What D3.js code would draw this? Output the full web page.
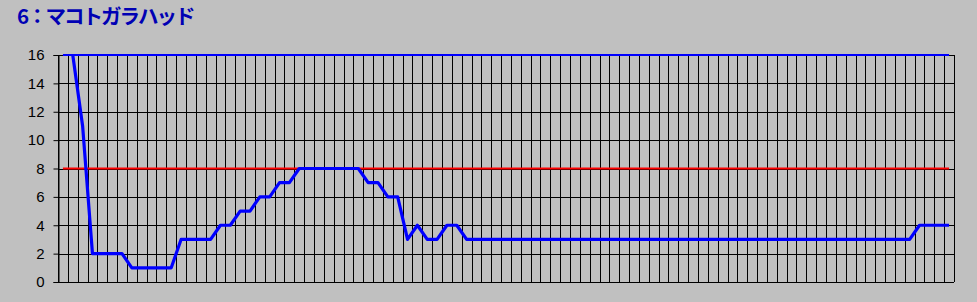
<!DOCTYPE html>
<html>
<head>
<meta charset="utf-8">
<script src="https://cdn.jsdelivr.net/npm/d3@7"></script>
<style>
  body { margin: 0; background: #c0c0c0; }
  svg { display: block; }
</style>
</head>
<body>
<svg id="chart" width="977" height="302"></svg>
<script>
// Chart title.
var title = '6：マコトガラハッド';

// Category slots along the bottom axis (no labels are shown).
var categories = d3.range(1, 92);

// Main series, one value per category (first slot is empty).
var values = [
  null, 16, 11, 2, 2, 2, 2, 1, 1, 1,
  1, 1, 3, 3, 3, 3, 4, 4, 5, 5,
  6, 6, 7, 7, 8, 8, 8, 8, 8, 8,
  8, 7, 7, 6, 6, 3, 4, 3, 3, 4,
  4, 3, 3, 3, 3, 3, 3, 3, 3, 3,
  3, 3, 3, 3, 3, 3, 3, 3, 3, 3,
  3, 3, 3, 3, 3, 3, 3, 3, 3, 3,
  3, 3, 3, 3, 3, 3, 3, 3, 3, 3,
  3, 3, 3, 3, 3, 3, 3, 4, 4, 4,
  4
];

// Flat reference lines.
var topLevel = 16;
var midLevel = 8;

// Y axis ticks.
var yTicks = [0, 2, 4, 6, 8, 10, 12, 14, 16];


/**
 * Draws the whole chart into the svg.
 */
function drawChart() {
  var svg = d3.select('#chart');
  var left = 58, right = 954, top = 55, bottom = 282;

  var x = d3.scaleBand().domain(categories).range([left, right]).
      paddingInner(0).paddingOuter(0);
  var y = d3.scaleLinear().domain([0, 16]).range([bottom, top]);
  var cx = function(c) { return x(c) + x.bandwidth() / 2; };
  var crisp = function(v) { return Math.round(v) + 0.5; };

  // Title, kept low enough so its font box stays inside the page.
  svg.append('text').
      attr('x', 17).
      attr('y', 24).
      attr('fill', '#0000b4').
      attr('font-family', '"Noto Sans CJK JP", sans-serif').
      attr('font-size', 20.5).
      attr('letter-spacing', -2).
      attr('font-weight', 'bold').
      text(title);

  // Horizontal grid.
  svg.append('g').selectAll('line').data(yTicks).join('line').
      attr('x1', left).attr('x2', right).
      attr('y1', function(d) { return crisp(y(d)); }).
      attr('y2', function(d) { return crisp(y(d)); }).
      attr('stroke', '#000');

  // Vertical grid on the category boundaries.
  var edges = categories.map(function(c) { return x(c); }).concat([right]);
  svg.append('g').selectAll('line').data(edges).join('line').
      attr('x1', function(d) { return crisp(d); }).
      attr('x2', function(d) { return crisp(d); }).
      attr('y1', top).attr('y2', bottom).
      attr('stroke', '#000');

  // Y axis.
  var yAxis = svg.append('g').
      attr('transform', 'translate(' + (left + 0.5) + ',0)').
      call(d3.axisLeft(y).tickValues(yTicks).tickSize(5).tickPadding(9));
  yAxis.selectAll('path, line').attr('stroke', '#000');
  yAxis.selectAll('text').
      attr('fill', '#000').
      attr('font-family', '"Liberation Sans", Arial, sans-serif').
      attr('font-size', 15);

  // Reference lines.
  var flat = d3.line().
      x(function(c) { return cx(c); });
  var ends = [categories[0], categories[categories.length - 1]];
  svg.append('path').datum(ends).
      attr('d', flat.y(function() { return y(topLevel); })).
      attr('fill', 'none').attr('stroke', '#0000ff').attr('stroke-width', 2);
  svg.append('path').datum(ends).
      attr('d', flat.y(function() { return y(midLevel); })).
      attr('fill', 'none').attr('stroke', '#ff0000').attr('stroke-width', 2);

  // Main series.
  var line = d3.line().
      defined(function(d, i) { return values[i] != null; }).
      x(function(c) { return cx(c); }).
      y(function(c, i) { return y(values[i]); });
  svg.append('path').datum(categories).
      attr('d', line).
      attr('fill', 'none').
      attr('stroke', '#0000ff').
      attr('stroke-width', 3.2).
      attr('stroke-linejoin', 'round');
}

drawChart();
</script>
</body>
</html>
